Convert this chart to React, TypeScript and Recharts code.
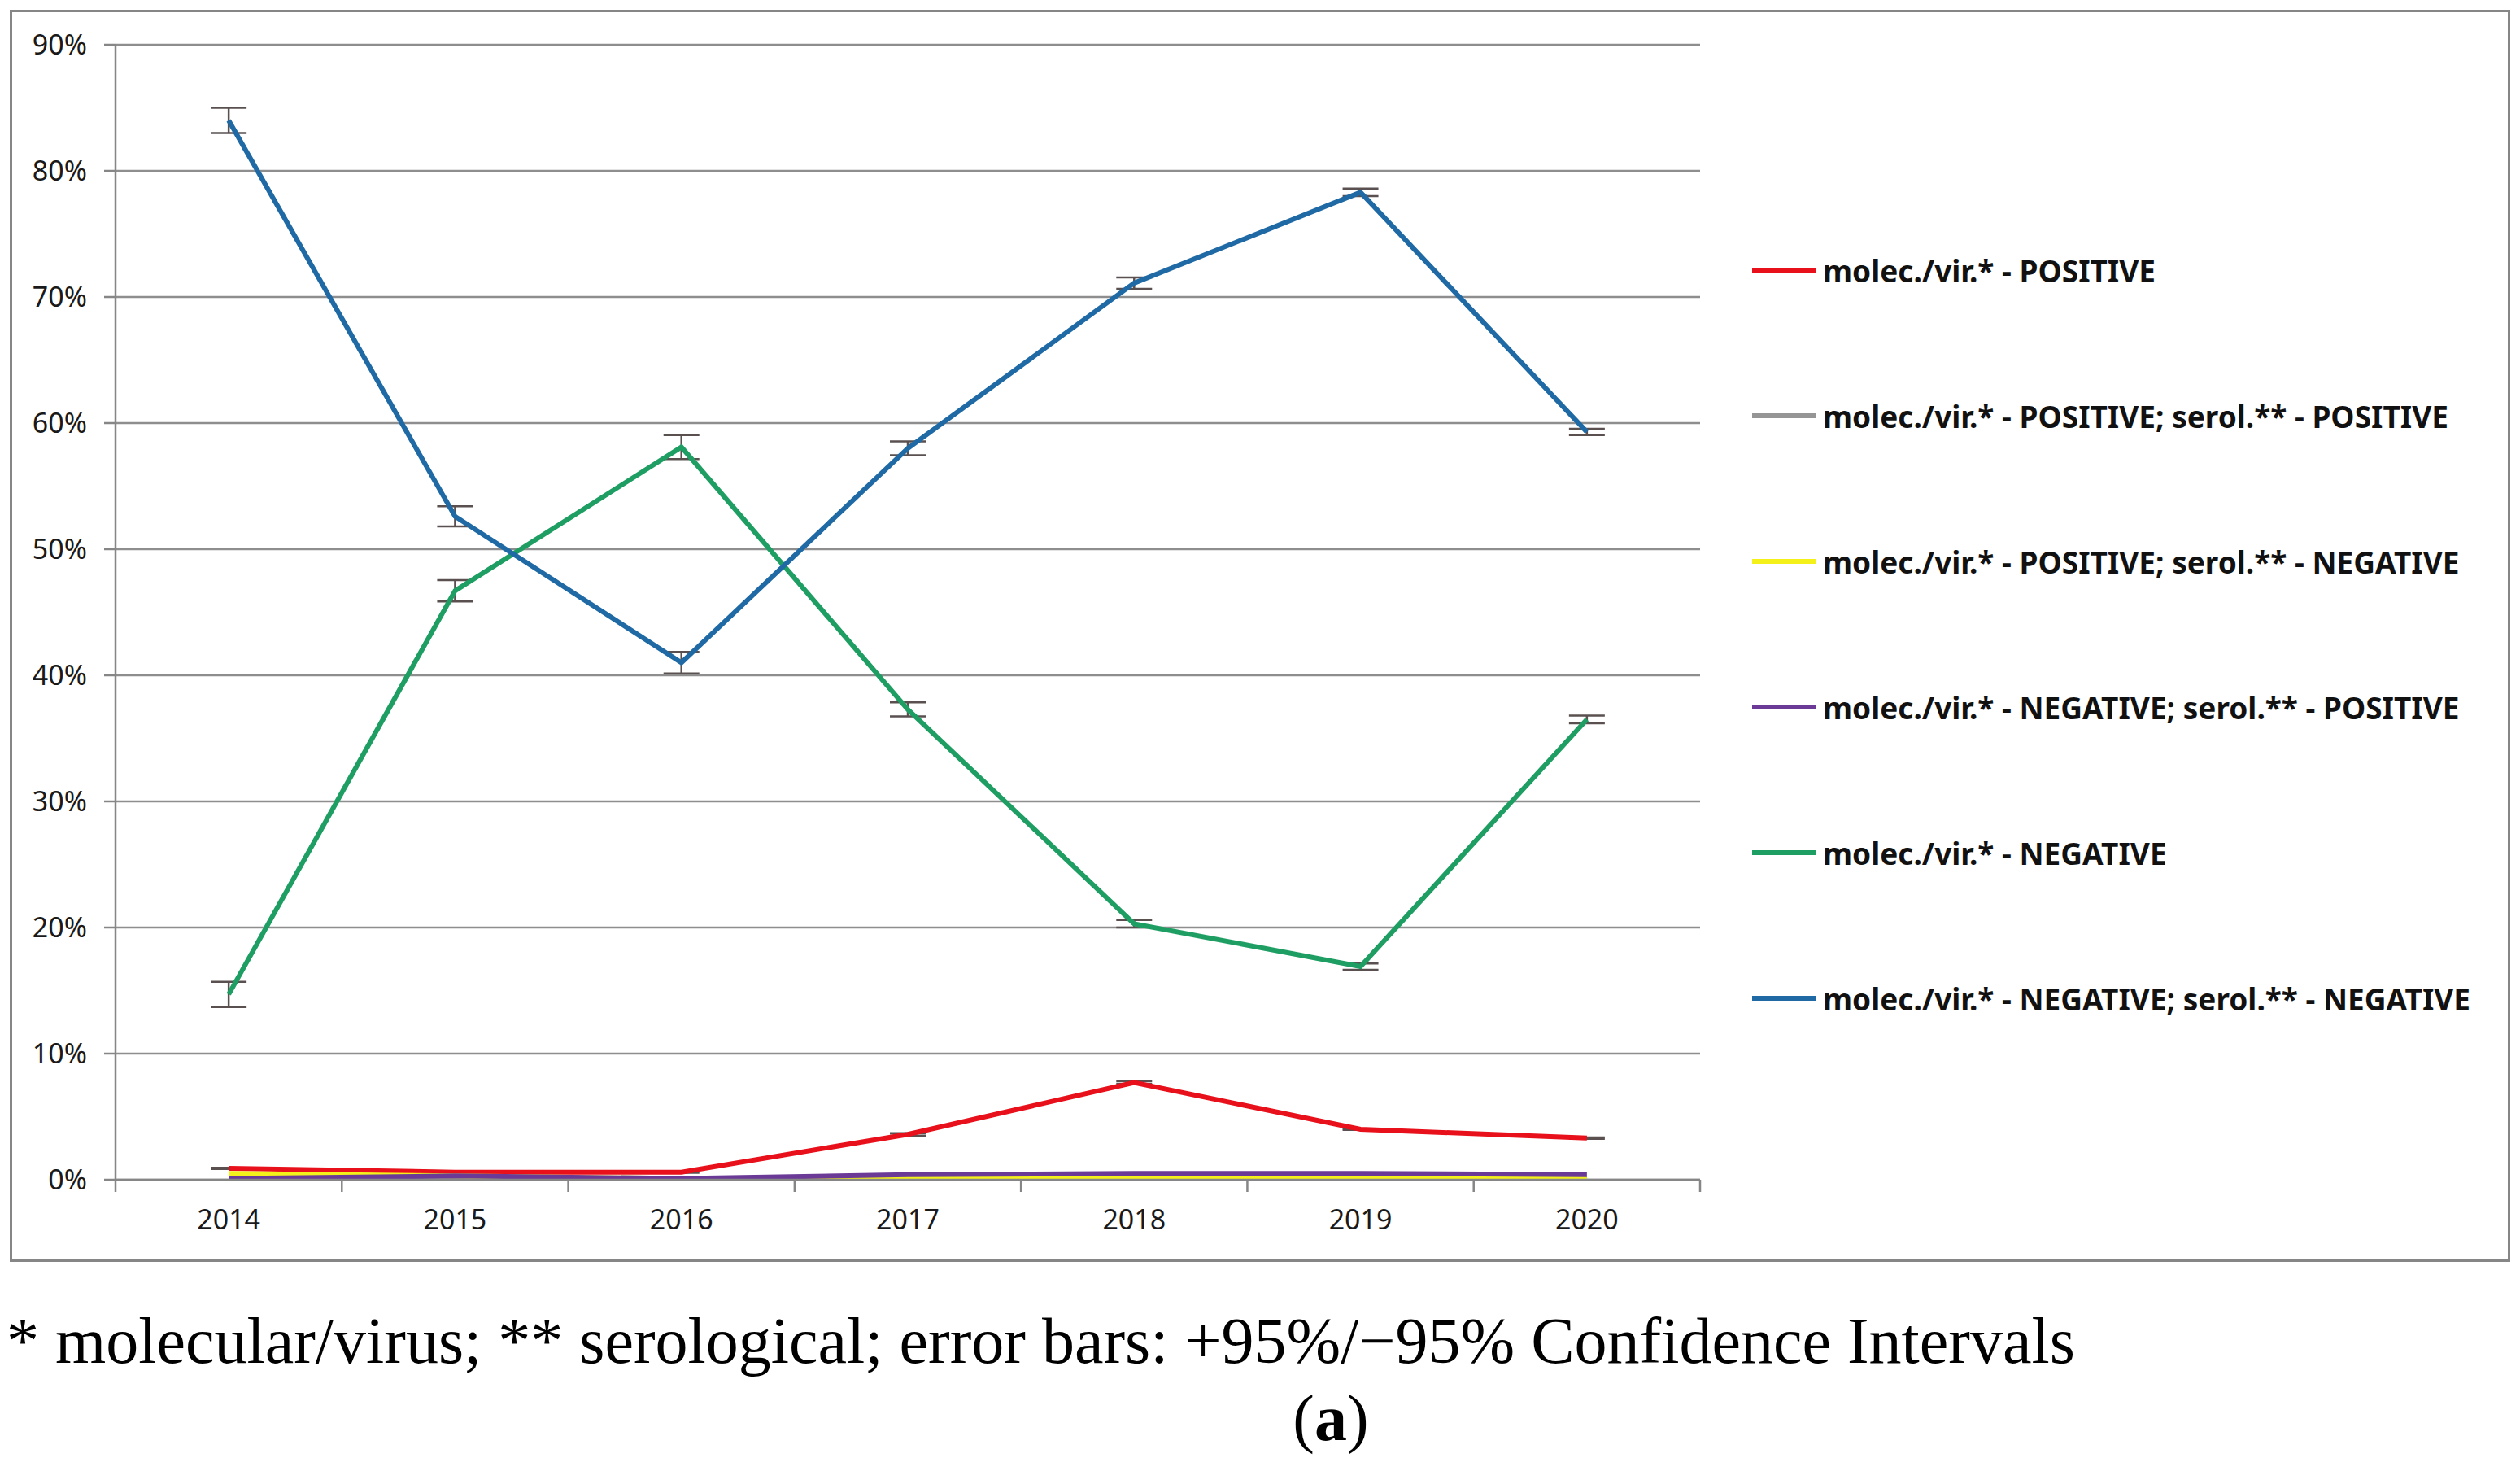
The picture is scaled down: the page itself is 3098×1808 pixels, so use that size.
import { LineChart, Line, XAxis, YAxis, CartesianGrid, ErrorBar } from "recharts";

const years = [2014, 2015, 2016, 2017, 2018, 2019, 2020];

// percentages
const molPos = [0.9, 0.6, 0.6, 3.6, 7.7, 4.0, 3.3];
const molPosSerPos = [0.3, 0.1, 0.1, 0.1, 0.1, 0.1, 0.1];
const molPosSerNeg = [0.5, 0.3, 0.1, 0.1, 0.1, 0.1, 0.1];
const molNegSerPos = [0.1, 0.3, 0.1, 0.4, 0.5, 0.5, 0.4];
const molNeg = [14.7, 46.7, 58.1, 37.3, 20.3, 16.9, 36.5];
const molNegSerNeg = [84.0, 52.6, 41.0, 58.0, 71.1, 78.3, 59.3];

// 95% CI half widths
const molPosErr = [0.05, 0.05, 0.05, 0.1, 0.1, 0.05, 0.05];
const molNegErr = [1.0, 0.85, 0.95, 0.55, 0.3, 0.25, 0.3];
const molNegSerNegErr = [1.0, 0.8, 0.85, 0.55, 0.45, 0.3, 0.25];

const yTicks = [0, 10, 20, 30, 40, 50, 60, 70, 80, 90];
const xTicks = [2013.5, 2014, 2014.5, 2015, 2015.5, 2016, 2016.5, 2017, 2017.5, 2018, 2018.5, 2019, 2019.5, 2020, 2020.5];

const series = [
  { key: "molPos", name: "molec./vir.* - POSITIVE", color: "#e8101a", err: "molPosErr" },
  { key: "molPosSerPos", name: "molec./vir.* - POSITIVE; serol.** - POSITIVE", color: "#959595" },
  { key: "molPosSerNeg", name: "molec./vir.* - POSITIVE; serol.** - NEGATIVE", color: "#f4f01a" },
  { key: "molNegSerPos", name: "molec./vir.* - NEGATIVE; serol.** - POSITIVE", color: "#6a3a96" },
  { key: "molNeg", name: "molec./vir.* - NEGATIVE", color: "#1e9e62", err: "molNegErr" },
  { key: "molNegSerNeg", name: "molec./vir.* - NEGATIVE; serol.** - NEGATIVE", color: "#1f6aa5", err: "molNegSerNegErr" },
];

const data = years.map((year, i) => ({
  year,
  molPos: molPos[i],
  molPosSerPos: molPosSerPos[i],
  molPosSerNeg: molPosSerNeg[i],
  molNegSerPos: molNegSerPos[i],
  molNeg: molNeg[i],
  molNegSerNeg: molNegSerNeg[i],
  molPosErr: molPosErr[i],
  molNegErr: molNegErr[i],
  molNegSerNegErr: molNegSerNegErr[i],
}));

const axisColor = "#868686";
const font = "'Noto Sans', sans-serif";
const serif = "'Liberation Serif', 'Times New Roman', serif";

// years get a label, the half steps get the small tick mark between categories
const YearTick = (props: any) => {
  const { x, y, payload } = props;
  if (Number.isInteger(payload.value)) {
    return (
      <text x={x} y={y + 61} textAnchor="middle" fontSize={34} fontFamily={font} fill="#1a1a1a">
        {payload.value}
      </text>
    );
  }
  return <line x1={x} y1={y} x2={x} y2={y + 15} stroke={axisColor} strokeWidth={2.5} />;
};

const App = () => {
  return (
    <div style={{ position: "absolute", left: 0, top: 0, width: 3098, height: 1808, background: "#fff" }}>
      {/* chart frame */}
      <div
        style={{
          position: "absolute",
          left: 12,
          top: 12,
          width: 3068,
          height: 1533,
          border: `3px solid ${axisColor}`,
        }}
      />

      <div style={{ position: "absolute", left: 0, top: 0 }}>
        <LineChart width={3098} height={1560} data={data} margin={{ top: 55, right: 1008, left: 0, bottom: 30 }}>
          <CartesianGrid vertical={false} stroke="#8e8e8e" strokeWidth={2.5} />
          <XAxis
            dataKey="year"
            type="number"
            domain={[2013.5, 2020.5]}
            ticks={xTicks}
            interval={0}
            tick={<YearTick />}
            tickLine={false}
            tickSize={0}
            tickMargin={0}
            height={80}
            axisLine={{ stroke: axisColor, strokeWidth: 2.5 }}
          />
          <YAxis
            domain={[0, 90]}
            ticks={yTicks}
            interval={0}
            width={142}
            tickSize={14}
            tickMargin={21}
            tickFormatter={(v: number) => `${v}%`}
            tick={{ fontSize: 34, fontFamily: font, fill: "#1a1a1a" }}
            tickLine={{ stroke: axisColor, strokeWidth: 2.5 }}
            axisLine={{ stroke: axisColor, strokeWidth: 2.5 }}
          />
          {series.map((s) => (
            <Line
              key={s.key}
              dataKey={s.key}
              stroke={s.color}
              strokeWidth={6}
              dot={false}
              activeDot={false}
              isAnimationActive={false}
            >
              {s.err && (
                <ErrorBar dataKey={s.err} direction="y" width={22} stroke="#5a5050" strokeWidth={2.5} />
              )}
            </Line>
          ))}
        </LineChart>
      </div>

      {/* legend */}
      {series.map((s, i) => (
        <div
          key={s.key}
          style={{
            position: "absolute",
            left: 2154,
            top: 332 + i * 179 - 25,
            height: 50,
            display: "flex",
            alignItems: "center",
            fontFamily: font,
            fontWeight: 700,
            fontSize: 37,
            color: "#111",
            whiteSpace: "nowrap",
          }}
        >
          <span style={{ display: "inline-block", width: 79, height: 6, background: s.color, marginRight: 8 }} />
          <span>{s.name}</span>
        </div>
      ))}

      {/* caption */}
      <div
        style={{
          position: "absolute",
          left: 8,
          top: 1608,
          fontFamily: serif,
          fontSize: 80,
          lineHeight: 1,
          color: "#000",
          whiteSpace: "nowrap",
        }}
      >
        * molecular/virus; ** serological; error bars: +95%/−95% Confidence Intervals
      </div>
      <div
        style={{
          position: "absolute",
          left: 1636,
          top: 1703,
          transform: "translateX(-50%)",
          fontFamily: serif,
          fontSize: 80,
          lineHeight: 1,
          color: "#000",
        }}
      >
        (<b>a</b>)
      </div>
    </div>
  );
};

export default App;
